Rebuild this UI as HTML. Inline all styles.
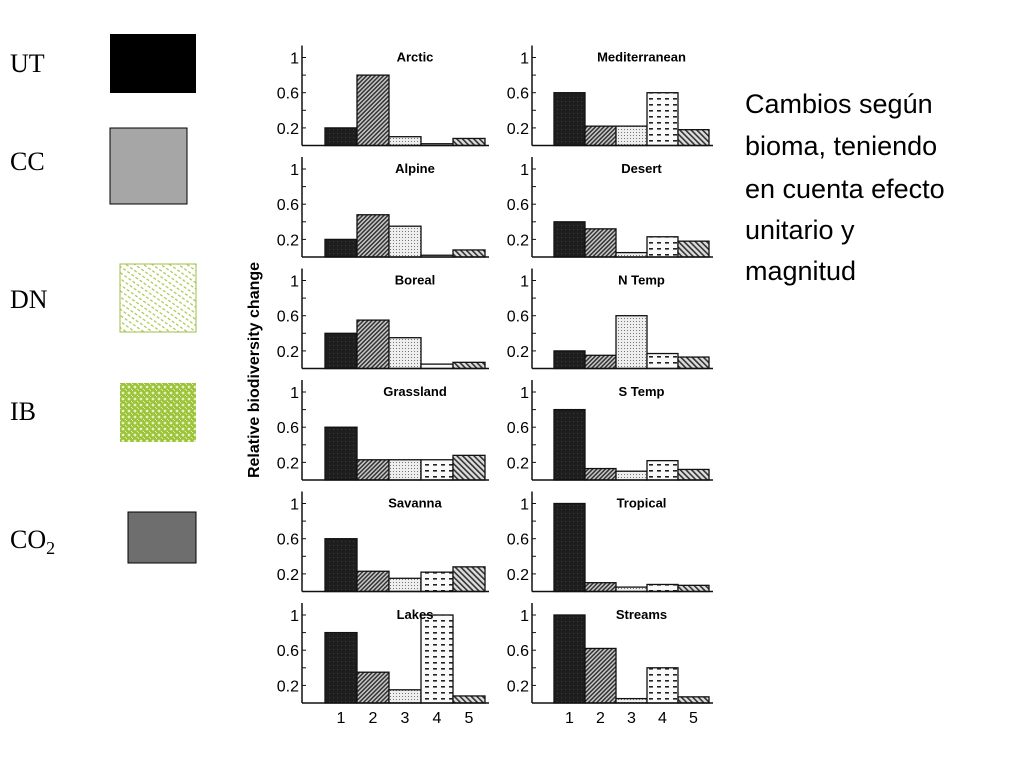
<!DOCTYPE html>
<html><head><meta charset="utf-8"><style>
html,body{margin:0;padding:0;background:#fff;width:1024px;height:768px;overflow:hidden}
svg{display:block}
</style></head><body>
<svg width="1024" height="768" xmlns="http://www.w3.org/2000/svg">
<defs>
<pattern id="p1" width="4" height="4" patternUnits="userSpaceOnUse"><rect width="4" height="4" fill="#1e1e1e"/><rect x="1" y="1" width="1" height="1" fill="#3a3a44"/></pattern>
<pattern id="p2" width="3" height="3" patternUnits="userSpaceOnUse" patternTransform="rotate(45)"><rect width="3" height="3" fill="#c8c8c8"/><rect width="1.5" height="3" fill="#333"/></pattern>
<pattern id="p3" width="3" height="3" patternUnits="userSpaceOnUse"><rect width="3" height="3" fill="#eee"/><rect width="1" height="1" fill="#777"/></pattern>
<pattern id="p4" width="8" height="6" patternUnits="userSpaceOnUse"><rect width="8" height="6" fill="#fafafa"/><rect x="1" y="2" width="4" height="1.6" fill="#222"/></pattern>
<pattern id="p5" width="4" height="4" patternUnits="userSpaceOnUse" patternTransform="rotate(-45)"><rect width="4" height="4" fill="#ddd"/><rect width="1.6" height="4" fill="#333"/></pattern>
<pattern id="pdn" width="5" height="5" patternUnits="userSpaceOnUse" patternTransform="rotate(-55)"><rect width="5" height="5" fill="#fff"/><rect width="1.2" height="3" fill="#a8c84a"/></pattern>
<pattern id="pib" width="6" height="6" patternUnits="userSpaceOnUse"><rect width="6" height="6" fill="#9cc43a"/><circle cx="3" cy="3" r="1.4" fill="#e6f0c0"/><circle cx="0" cy="0" r="1.2" fill="#e6f0c0"/><circle cx="6" cy="6" r="1.2" fill="#e6f0c0"/></pattern>
</defs>
<g font-family="Liberation Serif, serif" font-size="26" fill="#000">
<text x="10" y="72">UT</text>
<rect x="110" y="34" width="86" height="59" fill="#000"/>
<text x="10" y="170">CC</text>
<rect x="110" y="128" width="77" height="76" fill="#a6a6a6" stroke="#000"/>
<text x="10" y="308">DN</text>
<rect x="120" y="264" width="76" height="68" fill="url(#pdn)" stroke="#9cbc48"/>
<text x="10" y="420">IB</text>
<rect x="120" y="383" width="76" height="59" fill="url(#pib)"/>
<text x="10" y="548">CO<tspan font-size="18" dy="6">2</tspan></text>
<rect x="128" y="512" width="68" height="51" fill="#6e6e6e" stroke="#000"/>
</g>
<text transform="translate(259,370) rotate(-90)" text-anchor="middle" font-family="Liberation Sans, sans-serif" font-weight="bold" font-size="16">Relative biodiversity change</text>
<g font-family="Liberation Sans, sans-serif" font-size="27" fill="#000">
<text x="745" y="113">Cambios según</text>
<text x="745" y="155">bioma, teniendo</text>
<text x="745" y="198">en cuenta efecto</text>
<text x="745" y="239">unitario y</text>
<text x="745" y="280">magnitud</text>
</g>
<g id="charts"></g>
</svg>
<script>
const biomes = ["Arctic","Alpine","Boreal","Grassland","Savanna","Lakes","Mediterranean","Desert","N Temp","S Temp","Tropical","Streams"];
const factors = ["1","2","3","4","5"];
const yTicks = [1,0.6,0.2];
const values = [
[0.2,0.8,0.1,0.02,0.08],
[0.2,0.48,0.35,0.02,0.08],
[0.4,0.55,0.35,0.05,0.07],
[0.6,0.23,0.23,0.23,0.28],
[0.6,0.23,0.15,0.22,0.28],
[0.8,0.35,0.15,1.0,0.08],
[0.6,0.22,0.22,0.6,0.18],
[0.4,0.32,0.05,0.23,0.18],
[0.2,0.15,0.6,0.17,0.13],
[0.8,0.13,0.1,0.22,0.12],
[1.0,0.1,0.05,0.08,0.07],
[1.0,0.62,0.05,0.4,0.07]
];
const NS="http://www.w3.org/2000/svg";
const root=document.getElementById('charts');
function mk(t,a,p){const e=document.createElementNS(NS,t);for(const k in a)e.setAttribute(k,a[k]);p.appendChild(e);return e;}
const fills=["url(#p1)","url(#p2)","url(#p3)","url(#p4)","url(#p5)"];
biomes.forEach((b,i)=>{
  const col=Math.floor(i/6), row=i%6;
  const axisX=col?532:302, barX0=col?554:325, bw=col?31:32;
  const base=145.5+row*111.5, scale=88;
  const yS=v=>base-v*scale;
  const g=mk('g',{},root);
  
  
  values[i].forEach((v,j)=>{
    const r=mk('rect',{x:barX0+j*bw,y:yS(v),width:bw,height:Math.max(v*scale,1),fill:fills[j],stroke:'#111','stroke-width':1.3},g);
    
    
  });
  mk('line',{x1:axisX,y1:base-100,x2:axisX,y2:base,stroke:'#111','stroke-width':1.5},g);
  mk('line',{x1:axisX,y1:base,x2:barX0+5*bw+4,y2:base,stroke:'#111','stroke-width':1.5},g);
  [1,0.8,0.6,0.4,0.2].forEach(t=>mk('line',{x1:axisX,y1:yS(t),x2:axisX+4,y2:yS(t),stroke:'#111'},g));
  yTicks.forEach(t=>{
    const tx=mk('text',{x:axisX-3,y:yS(t)+6,'text-anchor':'end','font-family':'Liberation Sans, sans-serif','font-size':16},g);
    tx.textContent=String(t);
    
    
  });
  const title=mk('text',{x:barX0+2.5*bw+10,y:base-84,'text-anchor':'middle','font-family':'Liberation Sans, sans-serif','font-weight':'bold','font-size':13},g);
  title.textContent=b;
  
  
  if(row===5){
    factors.forEach((f,j)=>{
      const tx=mk('text',{x:barX0+j*bw+bw/2,y:base+20,'text-anchor':'middle','font-family':'Liberation Sans, sans-serif','font-size':16},g);
      tx.textContent=f;
      
      
    });
  }
});
</script>
</body></html>
